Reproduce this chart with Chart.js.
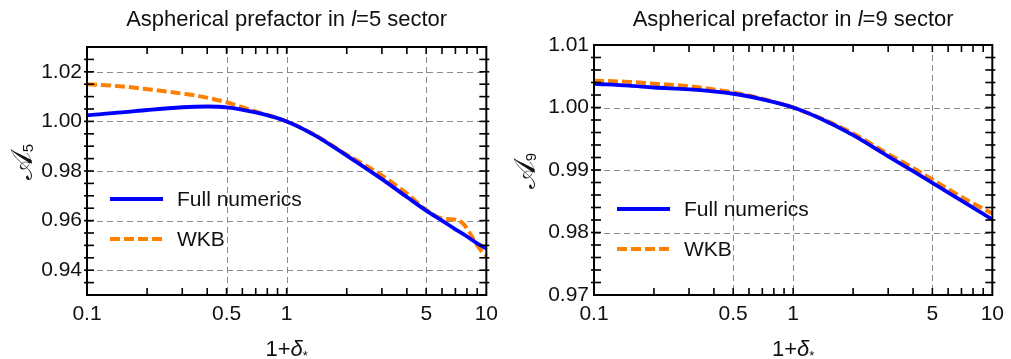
<!DOCTYPE html>
<html>
<head>
<meta charset="utf-8">
<script src="https://cdn.jsdelivr.net/npm/chart.js@4.4.1/dist/chart.umd.min.js"></script>
<style>
  html, body { margin:0; padding:0; background:#fff; }
  #wrap { position:relative; width:1011px; height:359px; }
  .box { position:absolute; top:0; height:359px; }
</style>
</head>
<body>
<div id="wrap">
  <div class="box" style="left:0;width:505px"><canvas id="c1" width="505" height="359"></canvas></div>
  <div class="box" style="left:505px;width:506px"><canvas id="c2" width="506" height="359"></canvas></div>
</div>
<script>
// ---------- data ----------
const xTickValues = [0.1, 0.5, 1, 5, 10];
const xTickLabels = ["0.1", "0.5", "1", "5", "10"];

const l5TickValues = [0.94, 0.96, 0.98, 1.00, 1.02];
const l5TickLabels = ["0.94", "0.96", "0.98", "1.00", "1.02"];
const l9TickValues = [0.97, 0.98, 0.99, 1.00, 1.01];
const l9TickLabels = ["0.97", "0.98", "0.99", "1.00", "1.01"];

// l = 5 sector
const l5FullX = [0.1, 0.15, 0.2, 0.3, 0.4, 0.5, 0.7, 1, 1.4, 2, 3, 4, 5, 6, 7, 8, 9, 10];
const l5FullY = [1.0025, 1.0036, 1.0046, 1.0057, 1.0060, 1.0057, 1.0036, 1.0000, 0.9942, 0.9862, 0.9767, 0.9695, 0.9640, 0.9600, 0.9565, 0.9536, 0.9508, 0.9488];
const l5WkbX = [0.1, 0.15, 0.2, 0.3, 0.37, 0.5, 0.7, 1, 1.4, 2, 3, 4, 5, 5.8, 6.4, 7, 7.6, 8.2, 8.8, 9.4, 10];
const l5WkbY = [1.0150, 1.0141, 1.0130, 1.0112, 1.0101, 1.0077, 1.0040, 1.0000, 0.9943, 0.9866, 0.9782, 0.9709, 0.9643, 0.9612, 0.9606, 0.9604, 0.9590, 0.9555, 0.9512, 0.9480, 0.9458];

// l = 9 sector
const l9FullX = [0.1, 0.15, 0.2, 0.3, 0.5, 0.7, 1, 1.37, 2, 2.93, 4, 5, 7, 10];
const l9FullY = [1.0038, 1.0035, 1.0032, 1.0029, 1.0022, 1.0013, 1.0000, 0.99824, 0.99557, 0.99237, 0.98981, 0.98795, 0.98510, 0.98208];
const l9WkbX = [0.1, 0.15, 0.2, 0.3, 0.5, 0.7, 1, 1.37, 2, 2.93, 4, 5, 7, 10];
const l9WkbY = [1.0043, 1.0041, 1.0038, 1.0034, 1.0024, 1.0014, 1.0000, 0.99830, 0.99584, 0.99275, 0.99033, 0.98848, 0.98568, 0.98304];

const seriesNames = ["Full numerics", "WKB"];

// ---------- style ----------
const FONT = "'Liberation Sans', Arial, sans-serif";
const BLUE = "#0000ff";
const ORANGE = "#ff8000";

function pts(xs, ys) { return xs.map((x, i) => ({ x: x, y: ys[i] })); }

function makeChart(id, cfg) {
  const framePlugin = {
    id: 'frame_' + id,
    beforeDatasetsDraw(chart) {
      const { ctx, chartArea: a, scales: { x, y } } = chart;
      ctx.save();
      ctx.strokeStyle = '#8a8a8a';
      ctx.lineWidth = 1;
      ctx.setLineDash([6, 4]);
      xTickValues.forEach(v => {
        if (v <= 0.1 || v >= 10) return;
        const px = Math.round(x.getPixelForValue(v)) + 0.5;
        ctx.beginPath(); ctx.moveTo(px, a.top); ctx.lineTo(px, a.bottom); ctx.stroke();
      });
      cfg.yTicks.forEach(v => {
        if (v <= cfg.yMin + 1e-9 || v >= cfg.yMax - 1e-9) return;
        const py = Math.round(y.getPixelForValue(v)) + 0.5;
        ctx.beginPath(); ctx.moveTo(a.left, py); ctx.lineTo(a.right, py); ctx.stroke();
      });
      ctx.restore();
    },
    afterDatasetsDraw(chart) {
      const { ctx, chartArea: a, scales: { x, y } } = chart;
      ctx.save();
      ctx.setLineDash([]);
      ctx.strokeStyle = '#000';
      ctx.lineWidth = 1.6;
      const xt = [];
      for (let d = 0; d < 2; d++) {
        const base = d === 0 ? 0.1 : 1;
        for (let k = 2; k <= 9; k++) xt.push(base * k);
      }
      xt.push(1);
      xt.forEach(v => {
        const px = x.getPixelForValue(v);
        ctx.beginPath(); ctx.moveTo(px, a.bottom + 1); ctx.lineTo(px, a.bottom - 7); ctx.stroke();
        ctx.beginPath(); ctx.moveTo(px, a.top - 1); ctx.lineTo(px, a.top + 7); ctx.stroke();
      });
      const n = Math.round((cfg.yMax - cfg.yMin) / cfg.yMinorStep);
      for (let i = 1; i < n; i++) {
        const v = cfg.yMin + i * cfg.yMinorStep;
        const py = y.getPixelForValue(v);
        ctx.beginPath(); ctx.moveTo(a.left - 3, py); ctx.lineTo(a.left + 7, py); ctx.stroke();
        ctx.beginPath(); ctx.moveTo(a.right + 3, py); ctx.lineTo(a.right - 7, py); ctx.stroke();
      }
      ctx.lineWidth = 2;
      ctx.strokeRect(a.left, a.top, a.right - a.left, a.bottom - a.top);

      // legend
      const ds = chart.data.datasets;
      ds.forEach((d, i) => {
        const ly = cfg.legendY[i];
        ctx.save();
        ctx.strokeStyle = d.borderColor;
        ctx.lineWidth = 4;
        ctx.setLineDash(d.borderDash || []);
        ctx.beginPath(); ctx.moveTo(cfg.legendX, ly); ctx.lineTo(cfg.legendX + 53, ly); ctx.stroke();
        ctx.restore();
        ctx.fillStyle = '#111';
        ctx.font = '21px ' + FONT;
        ctx.textBaseline = 'middle';
        ctx.textAlign = 'left';
        ctx.fillText(d.label, cfg.legendX + 67, ly + 1);
      });

      // title
      const cx = (a.left + a.right) / 2;
      ctx.fillStyle = '#111';
      ctx.textBaseline = 'alphabetic';
      const parts = [
        { t: 'Aspherical prefactor in ', f: '22px ' + FONT },
        { t: 'l', f: 'italic 22px ' + FONT },
        { t: '=' + cfg.l + ' sector', f: '22px ' + FONT }
      ];
      let w = 0;
      parts.forEach(p => { ctx.font = p.f; w += ctx.measureText(p.t).width; });
      let sx = cx - w / 2;
      ctx.textAlign = 'left';
      parts.forEach(p => { ctx.font = p.f; ctx.fillText(p.t, sx, 26); sx += ctx.measureText(p.t).width; });

      // x axis title 1+δ*
      const xparts = [
        { t: '1+', f: '22px ' + FONT, dy: 0 },
        { t: 'δ', f: 'italic 22px ' + FONT, dy: 0 },
        { t: '*', f: '13px ' + FONT, dy: 4 }
      ];
      w = 0;
      xparts.forEach(p => { ctx.font = p.f; w += ctx.measureText(p.t).width; });
      sx = cx - w / 2;
      xparts.forEach(p => { ctx.font = p.f; ctx.fillText(p.t, sx, 356 + p.dy); sx += ctx.measureText(p.t).width; });

      // y axis title
      ctx.save();
      ctx.translate(cfg.yTitleX, cfg.yTitleY);
      ctx.rotate(-Math.PI / 2);
      ctx.textBaseline = 'middle';
      const yparts = [
        { t: '𝒜', f: '30px "DejaVu Serif", "DejaVu Sans", serif', dy: 0 },
        { t: String(cfg.l), f: '15px ' + FONT, dy: 5 }
      ];
      w = 0;
      yparts.forEach(p => { ctx.font = p.f; w += ctx.measureText(p.t).width; });
      sx = -w / 2;
      yparts.forEach(p => { ctx.font = p.f; ctx.fillText(p.t, sx, p.dy); sx += ctx.measureText(p.t).width; });
      ctx.restore();

      ctx.restore();
    }
  };

  return new Chart(document.getElementById(id), {
    type: 'line',
    data: {
      datasets: [
        { label: seriesNames[0], data: pts(cfg.fullX, cfg.fullY), borderColor: BLUE, borderWidth: 3.8,
          pointRadius: 0, cubicInterpolationMode: 'monotone', fill: false },
        { label: seriesNames[1], data: pts(cfg.wkbX, cfg.wkbY), borderColor: ORANGE, borderWidth: 4,
          borderDash: [10, 4], pointRadius: 0, cubicInterpolationMode: 'monotone', fill: false }
      ]
    },
    options: {
      responsive: false,
      animation: false,
      devicePixelRatio: 1,
      clip: false,
      layout: { padding: { top: cfg.top, right: 14, left: 0, bottom: 0 } },
      plugins: { legend: { display: false }, title: { display: false }, tooltip: { enabled: false } },
      scales: {
        x: {
          type: 'logarithmic', min: 0.1, max: 10,
          grid: { display: false, drawTicks: false },
          border: { display: false },
          afterBuildTicks: s => { s.ticks = xTickValues.map(v => ({ value: v })); },
          afterFit: s => { s.height = 64; },
          ticks: {
            autoSkip: false, maxRotation: 0, padding: 7, color: '#111',
            font: { family: FONT, size: 21 },
            callback: (v) => { const i = xTickValues.indexOf(v); return i >= 0 ? xTickLabels[i] : ''; }
          }
        },
        y: {
          type: 'linear', min: cfg.yMin, max: cfg.yMax,
          grid: { display: false, drawTicks: false },
          border: { display: false },
          afterBuildTicks: s => { s.ticks = cfg.yTicks.map(v => ({ value: v })); },
          afterFit: s => { s.width = cfg.left; },
          ticks: {
            autoSkip: false, padding: 5, color: '#111',
            font: { family: FONT, size: 21 },
            callback: (v) => {
              const i = cfg.yTicks.findIndex(t => Math.abs(t - v) < 1e-9);
              return i >= 0 ? cfg.yLabels[i] : '';
            }
          }
        }
      }
    },
    plugins: [framePlugin]
  });
}

makeChart('c1', {
  l: 5, fullX: l5FullX, fullY: l5FullY, wkbX: l5WkbX, wkbY: l5WkbY,
  yMin: 0.93, yMax: 1.03, yTicks: l5TickValues, yLabels: l5TickLabels, yMinorStep: 0.005,
  top: 47, left: 87, legendX: 110, legendY: [199, 239], yTitleX: 24, yTitleY: 162
});
makeChart('c2', {
  l: 9, fullX: l9FullX, fullY: l9FullY, wkbX: l9WkbX, wkbY: l9WkbY,
  yMin: 0.97, yMax: 1.01, yTicks: l9TickValues, yLabels: l9TickLabels, yMinorStep: 0.002,
  top: 45, left: 89, legendX: 112, legendY: [209, 249], yTitleX: 22, yTitleY: 171
});
</script>
</body>
</html>
